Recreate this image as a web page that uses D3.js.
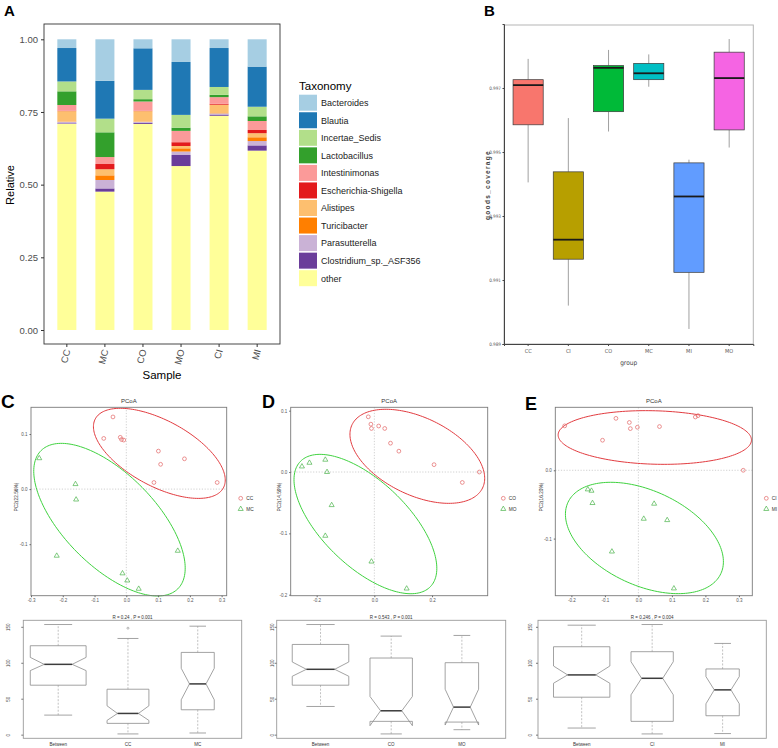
<!DOCTYPE html>
<html>
<head>
<meta charset="utf-8">
<script src="https://cdn.jsdelivr.net/npm/d3@7"></script>
<style>
  body { margin: 0; background: #fff; }
  svg { display: block; }
</style>
</head>
<body>
<svg id="fig" width="778" height="748"></svg>
<script>
// ── Panel A data: relative abundance per sample ─────────────────────────
const SAMPLES = ['CC', 'MC', 'CO', 'MO', 'CI', 'MI'];
const TAXA = ['Bacteroides', 'Blautia', 'Incertae_Sedis', 'Lactobacillus', 'Intestinimonas',
              'Escherichia-Shigella', 'Alistipes', 'Turicibacter', 'Parasutterella',
              'Clostridium_sp._ASF356', 'other'];
const TAXA_COLORS = ['#a6cee3', '#1f78b4', '#b2df8a', '#33a02c', '#fb9a99', '#e31a1c',
                     '#fdbf6f', '#ff7f00', '#cab2d6', '#6a3d9a', '#ffff99'];
const bacteroides    = [0.030, 0.143, 0.031, 0.078, 0.030, 0.094];
const blautia        = [0.115, 0.130, 0.143, 0.182, 0.134, 0.138];
const incertaeSedis  = [0.034, 0.047, 0.032, 0.044, 0.027, 0.033];
const lactobacillus  = [0.047, 0.085, 0.008, 0.011, 0.008, 0.016];
const intestinimonas = [0.020, 0.024, 0.032, 0.039, 0.023, 0.031];
const escherichia    = [0.001, 0.018, 0.001, 0.013, 0.003, 0.011];
const alistipes      = [0.036, 0.021, 0.036, 0.008, 0.029, 0.014];
const turicibacter   = [0.001, 0.016, 0.001, 0.011, 0.001, 0.013];
const parasutterella = [0.005, 0.029, 0.003, 0.012, 0.004, 0.015];
const clostridium    = [0.002, 0.011, 0.004, 0.038, 0.004, 0.018];
const other          = [0.709, 0.476, 0.709, 0.564, 0.737, 0.617];
const ABUND_TICKS = [0, 0.25, 0.5, 0.75, 1];

// ── Panel B data: goods_coverage boxplots ───────────────────────────────
const GROUPS = ['CC', 'CI', 'CO', 'MC', 'MI', 'MO'];
const GROUP_COLORS = ['#f8766d', '#b79f00', '#00ba38', '#00bfc4', '#619cff', '#f564e3'];
const goodsLow  = [0.99405, 0.99020, 0.99564, 0.99704, 0.98947, 0.99514];
const goodsQ1   = [0.99585, 0.99165, 0.99626, 0.99726, 0.99124, 0.99569];
const goodsMed  = [0.99709, 0.99226, 0.99763, 0.99746, 0.99361, 0.99731];
const goodsQ3   = [0.99726, 0.99438, 0.99770, 0.99777, 0.99466, 0.99812];
const goodsHigh = [0.99791, 0.99606, 0.99819, 0.99805, 0.99476, 0.99853];
const GOODS_TICKS = [0.989, 0.991, 0.993, 0.995, 0.997];

// ── Panels C-E data: PCoA scores [PC1, PC2] ─────────────────────────────
const pointsCC = [[-0.042, 0.131], [-0.071, 0.092], [-0.019, 0.094], [-0.015, 0.090], [-0.008, 0.089],
                  [0.101, 0.069], [0.108, 0.045], [0.183, 0.055], [0.087, 0.012], [0.286, 0.012]];
const pointsMC = [[-0.274, 0.056], [-0.160, 0.009], [-0.158, -0.019], [-0.219, -0.121],
                  [0.162, -0.112], [-0.012, -0.153], [0.003, -0.166], [0.039, -0.181]];
const pointsCO = [[-0.021, 0.090], [-0.012, 0.078], [-0.010, 0.071], [0.015, 0.075], [0.036, 0.071],
                  [0.056, 0.047], [0.085, 0.034], [0.207, 0.012], [0.364, 0.000], [0.305, -0.017]];
const pointsMO = [[-0.251, 0.009], [-0.225, 0.015], [-0.170, 0.020], [-0.164, 0.000],
                  [-0.148, -0.054], [-0.170, -0.104], [-0.010, -0.146], [0.112, -0.190]];
const pointsCI = [[-0.220, 0.065], [-0.107, 0.044], [-0.067, 0.076], [-0.027, 0.070], [-0.024, 0.061],
                  [-0.003, 0.063], [0.063, 0.064], [0.170, 0.078], [0.178, 0.080], [0.313, 0.000]];
const pointsMI = [[-0.151, -0.028], [-0.140, -0.030], [-0.137, -0.048], [0.047, -0.049],
                  [0.016, -0.071], [0.086, -0.073], [-0.079, -0.119], [0.106, -0.173]];
// ellipses: centre and two conjugate semi-axes, in PC units
const ellipsesC = [{ c: [0.104, 0.0649], u: [0.2015, -0.0627], v: [-0.0493, -0.0525] },
                   { c: [-0.053, -0.0555], u: [0.2150, -0.1256], v: [-0.1029, -0.0585] }];
const ellipsesD = [{ c: [0.149, 0.0256], u: [0.2261, -0.0517], v: [-0.0586, -0.0566] },
                   { c: [-0.031, -0.0848], u: [0.2255, -0.1020], v: [-0.1022, -0.0500] }];
const ellipsesE = [{ c: [0.049, 0.048], u: [0.2885, -0.0040], v: [-0.0022, -0.0391] },
                   { c: [0.018, -0.0991], u: [0.2281, -0.0522], v: [-0.0596, -0.0626] }];

// ── Panels C-E data: ANOSIM rank boxplots ───────────────────────────────
const anosimN = [80, 45, 28];
const anosimC = { labels: ['Between', 'CC', 'MC'],
  low: [27.2, 1, 2.3], q1: [68.8, 15.7, 34.6], nLo: [89.1, 19.8, 48.5], med: [97.8, 29.5, 70.6],
  nHi: [107.5, 40.1, 92.3], q3: [123.7, 63.2, 114.4], high: [153.2, 133.8, 150.9], out: [[], [148.1], []] };
const anosimD = { labels: ['Between', 'CO', 'MO'],
  low: [39.2, 1, 6.9], q1: [68.8, 18.5, 17.5], nLo: [81.2, 12.5, 13.4], med: [90.9, 33.2, 38.3],
  nHi: [101.1, 53.1, 63.2], q3: [125.5, 106.6, 100.1], high: [153.2, 137.1, 138], out: [[], [], []] };
const anosimE = { labels: ['Between', 'CI', 'MI'],
  low: [9.2, 1, 1.5], q1: [52.1, 18.5, 26.3], nLo: [71.5, 55.4, 42.9], med: [83.1, 78.4, 62.3],
  nHi: [95.5, 101.5, 80.8], q3: [122.3, 115.4, 91.4], high: [152.3, 153.2, 126.9], out: [[], [], []] };
const RANK_TICKS = [0, 50, 100, 150];

const FONT = 'Liberation Sans, Arial, sans-serif';
const NARROW = 'DejaVu Sans Condensed, Liberation Sans Narrow, sans-serif';
const svg = d3.select('#fig');

function letter(txt, x, y, size) {
    svg.append('text').attr('x', x).attr('y', y)
        .attr('font-family', FONT).attr('font-weight', 'bold').attr('font-size', size)
        .attr('fill', '#000').text(txt);
}

// ── Panel A ──────────────────────────────────────────────────────────────
(function () {
    const L = 44, R = 280, T = 24, B = 344;
    const cols = [bacteroides, blautia, incertaeSedis, lactobacillus, intestinimonas, escherichia,
                  alistipes, turicibacter, parasutterella, clostridium, other];
    const rows = SAMPLES.map((s, i) => {
        const r = { sample: s };
        TAXA.forEach((t, k) => { r[t] = cols[k][i]; });
        return r;
    });
    const colorOf = d3.scaleOrdinal().domain(TAXA).range(TAXA_COLORS);
    const stack = d3.stack().keys(TAXA.slice().reverse())(rows);

    const x = d3.scaleBand().domain(SAMPLES).range([L, R]).paddingInner(0.5).paddingOuter(0.35);
    const y = d3.scaleLinear().domain([0, 1]).range([330, 39.3]);

    const g = svg.append('g');
    g.selectAll('.layer').data(stack).enter().append('g')
        .attr('fill', d => colorOf(d.key))
        .selectAll('rect').data(d => d).enter().append('rect')
        .attr('x', d => x(d.data.sample)).attr('width', x.bandwidth())
        .attr('y', d => y(d[1])).attr('height', d => Math.max(0, y(d[0]) - y(d[1])));

    g.append('rect').attr('x', L).attr('y', T).attr('width', R - L).attr('height', B - T)
        .attr('fill', 'none').attr('stroke', '#333').attr('stroke-width', 0.9);

    g.append('g').attr('transform', `translate(${L},0)`)
        .call(d3.axisLeft(y).tickValues(ABUND_TICKS).tickFormat(d3.format('.2f')).tickSize(3))
        .call(a => a.select('.domain').remove())
        .call(a => a.selectAll('line').attr('stroke', '#333'))
        .selectAll('text').attr('fill', '#4d4d4d').attr('font-size', '9.5px').attr('font-family', FONT);

    g.append('g').attr('transform', `translate(0,${B})`)
        .call(d3.axisBottom(x).tickSize(3))
        .call(a => a.select('.domain').remove())
        .call(a => a.selectAll('line').attr('stroke', '#333'))
        .selectAll('text').attr('fill', '#4d4d4d').attr('font-size', '9.5px').attr('font-family', FONT)
        .attr('text-anchor', 'end').attr('x', -5.2).attr('y', 1.9).attr('dy', '0.35em')
        .attr('transform', 'rotate(-75)');

    g.append('text').attr('transform', 'rotate(-90)').attr('x', -185).attr('y', 14)
        .attr('text-anchor', 'middle').attr('font-family', FONT).attr('font-size', '11px').text('Relative');
    g.append('text').attr('x', (L + R) / 2).attr('y', 379)
        .attr('text-anchor', 'middle').attr('font-family', FONT).attr('font-size', '11.5px').text('Sample');

    // legend
    const lg = svg.append('g').attr('transform', 'translate(299,0)');
    lg.append('text').attr('x', 0).attr('y', 90).attr('font-family', FONT).attr('font-size', '11.5px').text('Taxonomy');
    TAXA.forEach((t, i) => {
        const yy = 94.7 + i * 17.55;
        lg.append('rect').attr('x', 0).attr('y', yy).attr('width', 18).attr('height', 16).attr('fill', colorOf(t));
        lg.append('text').attr('x', 22).attr('y', yy + 11.3).attr('font-family', FONT)
            .attr('font-size', '9px').attr('fill', '#222').text(t);
    });
    letter('A', 4, 16, '15px');
})();

// ── Panel B ──────────────────────────────────────────────────────────────
(function () {
    const L = 504, R = 753.3, T = 25, B = 344;
    const x = d3.scaleBand().domain(GROUPS).range([L, R]).paddingInner(0.25).paddingOuter(0.225);
    const y = d3.scaleLinear().domain([0.989, 0.999]).range([B, 24]);
    const boxes = GROUPS.map((gname, i) => ({
        g: gname, color: GROUP_COLORS[i], lo: goodsLow[i], q1: goodsQ1[i],
        med: goodsMed[i], q3: goodsQ3[i], hi: goodsHigh[i]
    }));
    const g = svg.append('g');
    g.append('rect').attr('x', L).attr('y', T).attr('width', R - L).attr('height', B - T)
        .attr('fill', 'none').attr('stroke', '#b5b5b5').attr('stroke-width', 1);

    const bx = g.selectAll('.box').data(boxes).enter().append('g');
    const cx = d => x(d.g) + x.bandwidth() / 2;
    bx.append('line').attr('x1', cx).attr('x2', cx).attr('y1', d => y(d.hi)).attr('y2', d => y(d.q3))
        .attr('stroke', '#a0a0a0').attr('stroke-width', 1);
    bx.append('line').attr('x1', cx).attr('x2', cx).attr('y1', d => y(d.q1)).attr('y2', d => y(d.lo))
        .attr('stroke', '#a0a0a0').attr('stroke-width', 1);
    bx.append('rect').attr('x', d => x(d.g)).attr('width', x.bandwidth())
        .attr('y', d => y(d.q3)).attr('height', d => y(d.q1) - y(d.q3))
        .attr('fill', d => d.color).attr('stroke', '#3a3a3a').attr('stroke-width', 0.7);
    bx.append('line').attr('x1', d => x(d.g)).attr('x2', d => x(d.g) + x.bandwidth())
        .attr('y1', d => y(d.med)).attr('y2', d => y(d.med))
        .attr('stroke', '#1a1a1a').attr('stroke-width', 1.8);

    g.append('g').attr('transform', `translate(${L},0)`)
        .call(d3.axisLeft(y).tickValues(GOODS_TICKS).tickFormat(d3.format('.3f')).tickSize(1.5).tickPadding(1.5))
        .call(a => a.select('.domain').attr('stroke', '#444'))
        .call(a => a.selectAll('line').attr('stroke', '#444'))
        .selectAll('text').attr('fill', '#555').attr('font-size', '4.6px').attr('font-family', NARROW);
    g.append('g').attr('transform', `translate(0,${B})`)
        .call(d3.axisBottom(x).tickSize(2))
        .call(a => a.select('.domain').attr('stroke', '#444'))
        .call(a => a.selectAll('line').attr('stroke', '#444'))
        .selectAll('text').attr('fill', '#555').attr('font-size', '5.5px').attr('font-family', NARROW);

    g.append('text').attr('x', (L + R) / 2).attr('y', 365).attr('text-anchor', 'middle')
        .attr('font-family', NARROW).attr('font-size', '6.5px').attr('fill', '#444').text('group');
    g.append('text').attr('transform', 'rotate(-90)').attr('x', -185).attr('y', 489.5)
        .attr('text-anchor', 'middle').attr('font-family', FONT).attr('font-weight', 'bold')
        .attr('font-size', '6.5px').attr('letter-spacing', '1.3px').attr('fill', '#444').text('goods_coverage');
    letter('B', 484, 16, '15px');
})();

// ── PCoA panels ─────────────────────────────────────────────────────────
function drawPcoa(p) {
    const x = d3.scaleLinear().domain(p.xDomain).range([p.left, p.right]);
    const y = d3.scaleLinear().domain(p.yDomain).range([p.bottom, p.top]);
    const g = svg.append('g');
    const RED = '#e23b3f', GREEN = '#3fd23f';

    g.append('line').attr('x1', x(0)).attr('x2', x(0)).attr('y1', p.top).attr('y2', p.bottom)
        .attr('stroke', '#b0b0b0').attr('stroke-width', 0.6).attr('stroke-dasharray', '1.2,1.6');
    g.append('line').attr('x1', p.left).attr('x2', p.right).attr('y1', y(0)).attr('y2', y(0))
        .attr('stroke', '#b0b0b0').attr('stroke-width', 0.6).attr('stroke-dasharray', '1.2,1.6');

    const th = d3.range(0, 2 * Math.PI, Math.PI / 90);
    const ring = d3.line().curve(d3.curveLinearClosed);
    p.ellipses.forEach((e, i) => {
        const pts = th.map(t => [
            x(e.c[0] + e.u[0] * Math.cos(t) + e.v[0] * Math.sin(t)),
            y(e.c[1] + e.u[1] * Math.cos(t) + e.v[1] * Math.sin(t))
        ]);
        g.append('path').attr('d', ring(pts)).attr('fill', 'none')
            .attr('stroke', i === 0 ? RED : GREEN).attr('stroke-width', 1);
    });

    g.selectAll('.c1').data(p.ctrl).enter().append('circle')
        .attr('cx', d => x(d[0])).attr('cy', d => y(d[1])).attr('r', 1.9)
        .attr('fill', 'none').attr('stroke', '#e36464').attr('stroke-width', 0.7);
    const tri = d3.symbol().type(d3.symbolTriangle).size(11);
    g.selectAll('.t1').data(p.model).enter().append('path')
        .attr('transform', d => `translate(${x(d[0])},${y(d[1])})`).attr('d', tri)
        .attr('fill', 'none').attr('stroke', '#4bb34b').attr('stroke-width', 0.7);

    g.append('rect').attr('x', p.left).attr('y', p.top).attr('width', p.right - p.left)
        .attr('height', p.bottom - p.top).attr('fill', 'none').attr('stroke', '#7a7a7a').attr('stroke-width', 0.9);

    g.append('g').attr('transform', `translate(0,${p.bottom})`)
        .call(d3.axisBottom(x).tickValues(p.xTicks).tickFormat(d => d.toFixed(1)).tickSize(1.5).tickPadding(2))
        .call(a => a.select('.domain').remove())
        .call(a => a.selectAll('line').attr('stroke', '#666'))
        .selectAll('text').attr('fill', '#555').attr('font-size', '4.5px').attr('font-family', FONT);
    g.append('g').attr('transform', `translate(${p.left},0)`)
        .call(d3.axisLeft(y).tickValues(p.yTicks).tickFormat(d => d.toFixed(1)).tickSize(1.5).tickPadding(2))
        .call(a => a.select('.domain').remove())
        .call(a => a.selectAll('line').attr('stroke', '#666'))
        .selectAll('text').attr('fill', '#555').attr('font-size', '4.5px').attr('font-family', FONT);

    g.append('text').attr('x', (p.left + p.right) / 2).attr('y', 403).attr('text-anchor', 'middle')
        .attr('font-family', FONT).attr('font-size', '6px').attr('fill', '#333').text('PCoA');
    g.append('text').attr('transform', 'rotate(-90)').attr('x', -497).attr('y', p.yLabelX)
        .attr('text-anchor', 'middle').attr('font-family', FONT).attr('font-size', '4.8px')
        .attr('fill', '#333').text(p.yLabel);

    // legend
    g.append('circle').attr('cx', p.legendX).attr('cy', 498.3).attr('r', 1.9)
        .attr('fill', 'none').attr('stroke', '#e36464').attr('stroke-width', 0.7);
    g.append('path').attr('transform', `translate(${p.legendX},509)`).attr('d', tri)
        .attr('fill', 'none').attr('stroke', '#4bb34b').attr('stroke-width', 0.7);
    p.groups.forEach((name, i) => {
        g.append('text').attr('x', p.legendX + 5.5).attr('y', 500 + i * 10.7)
            .attr('font-family', FONT).attr('font-size', '4.8px').attr('fill', '#333').text(name);
    });
}

// ── ANOSIM boxplots ─────────────────────────────────────────────────────
function drawAnosim(p, a) {
    const x = d3.scaleLinear().domain(p.xDomain).range([p.left, p.right]);
    const y = d3.scaleLinear().domain([-5.08, 159.08]).range([738.3, 620.3]);
    const unit = x(1) - x(0);
    const nMax = d3.max(anosimN);
    const g = svg.append('g');
    g.append('rect').attr('x', p.left).attr('y', 620.3).attr('width', p.right - p.left)
        .attr('height', 118).attr('fill', 'none').attr('stroke', '#9a9a9a').attr('stroke-width', 0.9);

    a.labels.forEach((lab, i) => {
        const cx = x(i + 1);
        const w = 0.4 * unit * Math.sqrt(anosimN[i] / nMax);
        const bg = g.append('g');
        [[a.q3[i], a.high[i]], [a.q1[i], a.low[i]]].forEach(([from, to]) => {
            bg.append('line').attr('x1', cx).attr('x2', cx).attr('y1', y(from)).attr('y2', y(to))
                .attr('stroke', '#a8a8a8').attr('stroke-width', 0.7).attr('stroke-dasharray', '2,1.5');
            bg.append('line').attr('x1', cx - w / 2).attr('x2', cx + w / 2).attr('y1', y(to)).attr('y2', y(to))
                .attr('stroke', '#8c8c8c').attr('stroke-width', 0.8);
        });
        const outline = [
            [cx - w, y(a.q1[i])], [cx + w, y(a.q1[i])], [cx + w, y(a.nLo[i])], [cx + w / 2, y(a.med[i])],
            [cx + w, y(a.nHi[i])], [cx + w, y(a.q3[i])], [cx - w, y(a.q3[i])], [cx - w, y(a.nHi[i])],
            [cx - w / 2, y(a.med[i])], [cx - w, y(a.nLo[i])]
        ];
        bg.append('path').attr('d', d3.line().curve(d3.curveLinearClosed)(outline))
            .attr('fill', 'none').attr('stroke', '#8c8c8c').attr('stroke-width', 0.8);
        bg.append('line').attr('x1', cx - w / 2).attr('x2', cx + w / 2)
            .attr('y1', y(a.med[i])).attr('y2', y(a.med[i]))
            .attr('stroke', '#3c3c3c').attr('stroke-width', 1.5);
        a.out[i].forEach(v => {
            bg.append('circle').attr('cx', cx).attr('cy', y(v)).attr('r', 1)
                .attr('fill', 'none').attr('stroke', '#888').attr('stroke-width', 0.6);
        });
        g.append('text').attr('x', cx).attr('y', 746).attr('text-anchor', 'middle')
            .attr('font-family', FONT).attr('font-size', '4.5px').attr('fill', '#333').text(lab);
    });

    g.append('g').attr('transform', `translate(${p.left},0)`)
        .call(d3.axisLeft(y).tickValues(RANK_TICKS).tickSize(2).tickFormat(d3.format('d')))
        .call(ax => ax.select('.domain').remove())
        .call(ax => ax.selectAll('line').attr('stroke', '#777'))
        .selectAll('text').attr('fill', '#444').attr('font-size', '4.5px').attr('font-family', FONT)
        .attr('text-anchor', 'middle').attr('transform', 'rotate(-90)')
        .attr('x', 0).attr('dy', 0).attr('y', -(p.left - p.tickX));

    g.append('text').attr('x', (p.left + p.right) / 2).attr('y', 618.5).attr('text-anchor', 'middle')
        .attr('font-family', FONT).attr('font-size', '4.5px').attr('fill', '#333').text(p.title);
}

drawPcoa({ left: 31, right: 226.7, top: 407.3, bottom: 595.7,
    xDomain: [-0.3, 0.316], yDomain: [-0.1935, 0.1485],
    xTicks: [-0.3, -0.2, -0.1, 0, 0.1, 0.2, 0.3], yTicks: [-0.1, 0, 0.1],
    ctrl: pointsCC, model: pointsMC, ellipses: ellipsesC,
    groups: ['CC', 'MC'], legendX: 240.7, yLabel: 'PC2(22.56%)', yLabelX: 17.5 });
drawPcoa({ left: 290.7, right: 487.7, top: 407.3, bottom: 595.7,
    xDomain: [-0.29, 0.393], yDomain: [-0.2016, 0.1055],
    xTicks: [-0.2, 0, 0.2], yTicks: [-0.2, -0.1, 0, 0.1],
    ctrl: pointsCO, model: pointsMO, ellipses: ellipsesD,
    groups: ['CO', 'MO'], legendX: 503.3, yLabel: 'PC2(14.59%)', yLabelX: 280.5 });
drawPcoa({ left: 555.3, right: 752.3, top: 407.3, bottom: 595.7,
    xDomain: [-0.248, 0.340], yDomain: [-0.1836, 0.0922],
    xTicks: [-0.2, -0.1, 0, 0.1, 0.2, 0.3], yTicks: [-0.1, 0],
    ctrl: pointsCI, model: pointsMI, ellipses: ellipsesE,
    groups: ['CI', 'MI'], legendX: 766.3, yLabel: 'PC2(16.20%)', yLabelX: 543 });

drawAnosim({ left: 23.3, right: 241.7, xDomain: [0.5, 3.63], tickX: 9.5, title: 'R = 0.24 , P = 0.001' }, anosimC);
drawAnosim({ left: 276.7, right: 505.7, xDomain: [0.38, 3.62], tickX: 273.5, title: 'R = 0.543 , P = 0.001' }, anosimD);
drawAnosim({ left: 538, right: 766.3, xDomain: [0.38, 3.62], tickX: 532, title: 'R = 0.246 , P = 0.004' }, anosimE);

letter('C', 1, 408, '19px');
letter('D', 262, 408, '18px');
letter('E', 525, 410, '18px');
</script>
</body>
</html>
